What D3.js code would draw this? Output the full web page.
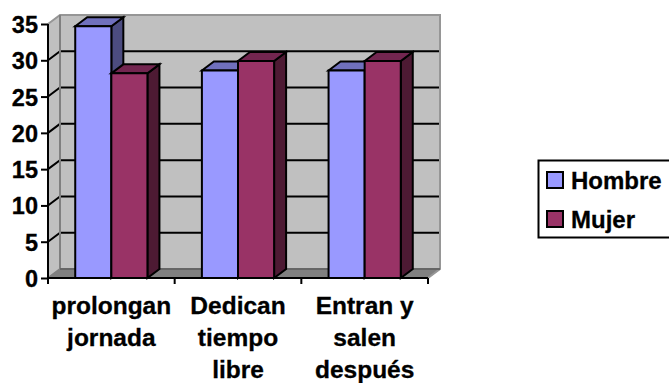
<!DOCTYPE html>
<html>
<head>
<meta charset="utf-8">
<script src="https://cdn.jsdelivr.net/npm/d3@7"></script>
<style>
html,body{margin:0;padding:0;background:#fff;overflow:hidden}
svg{display:block}
text{font-family:"Liberation Sans",Arial,sans-serif;font-weight:bold;fill:#000;stroke:#000;stroke-width:0.3px}
</style>
</head>
<body>
<svg id="chart" width="669" height="383"></svg>
<script>
const categories = [["prolongan","jornada"],["Dedican","tiempo","libre"],["Entran y","salen","después"]];
const seriesNames = ["Hombre","Mujer"];
const hombre = [34.7,28.6,28.6];
const mujer = [28.2,29.9,29.9];
const yTicks = [0,5,10,15,20,25,30,35];

const colors = {Hombre:{front:"#9999ff",top:"#7070bd",side:"#4c4c80"},Mujer:{front:"#993366",top:"#732650",side:"#4d1a33"}};
const dx = 12, dy = 9;
const svg = d3.select("#chart");

const y = d3.scaleLinear().domain([0,35]).range([278,24]);
const x0 = d3.scaleBand().domain(d3.range(categories.length)).range([48,428]).paddingInner(0.43).paddingOuter(0.215);
const x1 = d3.scaleBand().domain(seriesNames).range([0,x0.bandwidth()]);

const line = d3.line();
const poly = (pts,fill,stroke,sw) => svg.append("path").attr("d",line(pts)+"Z").attr("fill",fill)
  .attr("stroke",stroke).attr("stroke-width",sw).attr("stroke-linejoin","miter");

// Walls and floor of the 3D plot box
const x3L = 48, x3R = 428, yB = y(0), yT = y(35);
poly([[x3L+dx,yT-dy],[x3R+dx,yT-dy],[x3R+dx,yB-dy],[x3L+dx,yB-dy]],"#c0c0c0","none",0);
poly([[x3L,yT],[x3L+dx,yT-dy],[x3L+dx,yB-dy],[x3L,yB]],"#c0c0c0","none",0);
poly([[x3L,yB],[x3L+dx,yB-dy],[x3R+dx,yB-dy],[x3R,yB]],"#808080","none",0);

// Gridlines on the back and left walls
yTicks.filter(t=>t>0&&t<35).forEach(t=>{
  svg.append("path").attr("d",line([[x3L,y(t)],[x3L+dx,y(t)-dy],[x3R+dx,y(t)-dy]])).attr("fill","none").attr("stroke","#000").attr("stroke-width",2);
});
// Wall outlines
svg.append("path").attr("d",line([[x3L,yT],[x3L+dx,yT-dy],[x3R+dx,yT-dy],[x3R+dx,yB-dy],[x3R,yB]])).attr("fill","none").attr("stroke","#969696").attr("stroke-width",2);
svg.append("path").attr("d",line([[x3L+dx,yT-dy],[x3L+dx,yB-dy],[x3L,yB]])).attr("fill","none").attr("stroke","#808080").attr("stroke-width",2);
svg.append("path").attr("d",line([[x3L+dx,yB-dy],[x3R+dx,yB-dy]])).attr("fill","none").attr("stroke","#666").attr("stroke-width",2);

// Bars, each as front, top and side faces
const drawBar = (xp,w,v,c) => {
  const t = y(v), b = y(0);
  poly([[xp+w,t],[xp+w+dx,t-dy],[xp+w+dx,b-dy],[xp+w,b]],c.side,"#000",2);
  poly([[xp,t],[xp+dx,t-dy],[xp+w+dx,t-dy],[xp+w,t]],c.top,"#000",2);
  poly([[xp,t],[xp+w,t],[xp+w,b],[xp,b]],c.front,"#000",2);
};
categories.forEach((_,i)=>{
  const bx = x0(i);
  drawBar(bx+x1("Hombre"),x1.bandwidth(),hombre[i],colors.Hombre);
  drawBar(bx+x1("Mujer"),x1.bandwidth(),mujer[i],colors.Mujer);
});

// Axes
const axisY = svg.append("g").attr("transform",`translate(${x3L},0)`)
  .call(d3.axisLeft(y).tickValues(yTicks).tickSize(7).tickPadding(3));
axisY.select(".domain").attr("d",`M0,${yT}V${yB}`).attr("stroke","#000").attr("stroke-width",2);
axisY.selectAll("line").attr("stroke","#000").attr("stroke-width",2);
axisY.selectAll("text").attr("font-size",23.5).attr("font-family",null).attr("dy","0.36em");

const xEdges = d3.range(categories.length+1).map(i=>x3L+(x3R-x3L)*i/categories.length);
svg.append("path").attr("d",`M${x3L},${yB}H${x3R}`).attr("stroke","#000").attr("stroke-width",2);
xEdges.forEach(e=>svg.append("path").attr("d",`M${e},${yB}v6`).attr("stroke","#000").attr("stroke-width",2));

categories.forEach((lines,i)=>{
  const cx = (xEdges[i]+xEdges[i+1])/2;
  lines.forEach((l,j)=>svg.append("text").attr("x",cx).attr("y",314+j*32).attr("text-anchor","middle").attr("font-size",24.5).text(l));
});

// Legend
svg.append("rect").attr("x",538.5).attr("y",160.5).attr("width",135).attr("height",77).attr("fill","#fff").attr("stroke","#000").attr("stroke-width",2);
seriesNames.forEach((n,i)=>{
  const yy = 172 + i*39;
  svg.append("rect").attr("x",547).attr("y",yy).attr("width",16).attr("height",16).attr("fill",colors[n].front).attr("stroke","#000").attr("stroke-width",2);
  svg.append("text").attr("x",571).attr("y",yy+17).attr("font-size",24).text(n);
});
</script>
</body>
</html>
